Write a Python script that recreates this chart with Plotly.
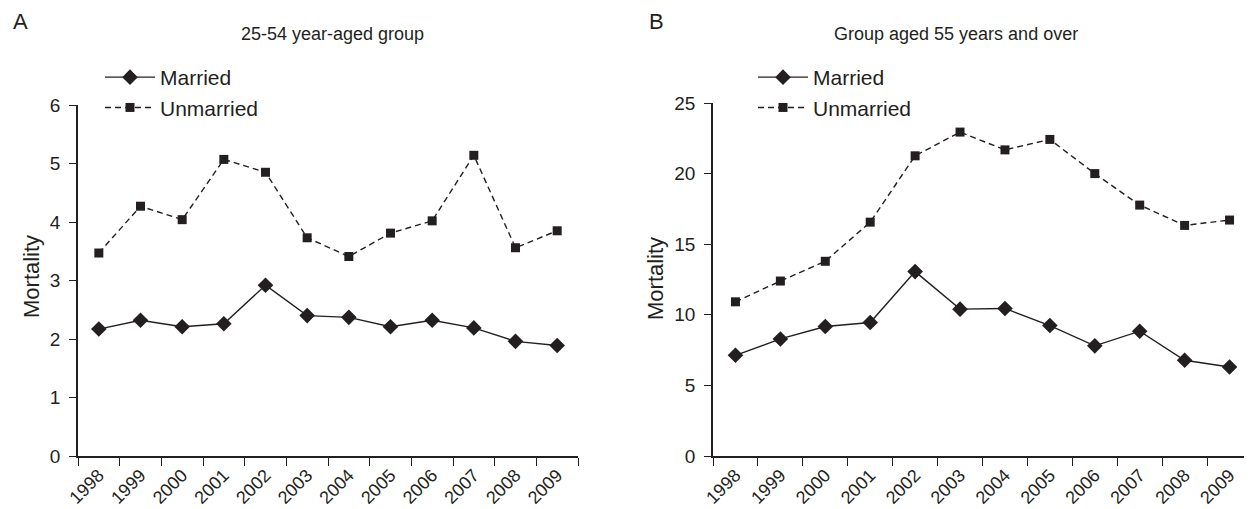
import plotly.graph_objects as go

years = ["1998", "1999", "2000", "2001", "2002", "2003", "2004", "2005", "2006", "2007", "2008", "2009"]

a_married = [2.17, 2.32, 2.21, 2.26, 2.92, 2.40, 2.37, 2.21, 2.32, 2.19, 1.96, 1.89]
a_unmarried = [3.47, 4.27, 4.04, 5.07, 4.85, 3.73, 3.41, 3.81, 4.02, 5.14, 3.56, 3.85]

b_married = [7.13, 8.29, 9.17, 9.45, 13.06, 10.40, 10.45, 9.24, 7.80, 8.84, 6.78, 6.30]
b_unmarried = [10.92, 12.39, 13.79, 16.56, 21.26, 22.94, 21.68, 22.42, 20.00, 17.77, 16.33, 16.71]

# The page body has an 8px margin; the figure starts at (8, 8) in the window.
OFF = 8
W, H = 1252 - OFF, 509 - OFF
FONT = "Liberation Sans, Arial, sans-serif"
INK = "#231f20"


def px_x(v):
    return min(1.0, (v - OFF) / W)


def px_y(v):
    return 1 - (v - OFF) / H


fig = go.Figure()

for xa, ya, lg, m, u in [("x", "y", "legend", a_married, a_unmarried),
                         ("x2", "y2", "legend2", b_married, b_unmarried)]:
    fig.add_trace(go.Scatter(x=years, y=m, name="Married", mode="lines+markers",
                             line=dict(color=INK, width=1.4),
                             marker=dict(symbol="diamond", size=12, color=INK),
                             xaxis=xa, yaxis=ya, legend=lg, cliponaxis=False))
    fig.add_trace(go.Scatter(x=years, y=u, name="Unmarried", mode="lines+markers",
                             line=dict(color=INK, width=1.4, dash="6px,4px"),
                             marker=dict(symbol="square", size=9, color=INK),
                             xaxis=xa, yaxis=ya, legend=lg, cliponaxis=False))

xaxis_common = dict(
    type="category", tickson="boundaries", ticks="outside", ticklen=8, tickwidth=1.4,
    tickcolor=INK, showline=True, linecolor=INK, linewidth=1.5, showgrid=False,
    zeroline=False, tickangle=-45, tickfont=dict(family=FONT, size=18, color=INK),
    range=[-0.5, 11.5], fixedrange=True, automargin=False,
)
yaxis_common = dict(
    ticks="outside", ticklen=7, tickwidth=1.4, tickcolor=INK, showline=True,
    linecolor=INK, linewidth=1.5, showgrid=False, zeroline=False, ticklabelstandoff=5,
    tickfont=dict(family=FONT, size=19, color=INK), fixedrange=True, automargin=False,
)

ybot = px_y(456)

legend_common = dict(xanchor="left", yanchor="top", font=dict(family=FONT, size=21, color=INK),
                     bgcolor="rgba(0,0,0,0)", tracegroupgap=0, itemwidth=50)

fig.update_layout(
    template="none",
    width=W, height=H,
    autosize=False,
    margin=dict(l=0, r=0, t=0, b=0, pad=0, autoexpand=False),
    paper_bgcolor="white", plot_bgcolor="white",
    font=dict(family=FONT, color=INK),
    xaxis=dict(domain=[px_x(78), px_x(578)], anchor="y", **xaxis_common),
    yaxis=dict(domain=[ybot, px_y(105)], anchor="x", range=[0, 6], dtick=1, **yaxis_common),
    xaxis2=dict(domain=[px_x(713), px_x(1252)], anchor="y2", **xaxis_common),
    yaxis2=dict(domain=[ybot, px_y(103)], anchor="x2", range=[0, 25], dtick=5, **yaxis_common),
    legend=dict(x=px_x(100), y=px_y(57), **legend_common),
    legend2=dict(x=px_x(753), y=px_y(57), **legend_common),
    showlegend=True,
    annotations=[
        dict(text="A", x=px_x(11), y=px_y(22), xref="paper", yref="paper", xanchor="left",
             yanchor="middle", showarrow=False, font=dict(family=FONT, size=22, color=INK)),
        dict(text="B", x=px_x(647), y=px_y(22), xref="paper", yref="paper", xanchor="left",
             yanchor="middle", showarrow=False, font=dict(family=FONT, size=22, color=INK)),
        dict(text="25-54 year-aged group", x=px_x(332), y=px_y(34), xref="paper", yref="paper",
             xanchor="center", yanchor="middle", showarrow=False,
             font=dict(family=FONT, size=18, color=INK)),
        dict(text="Group aged 55 years and over", x=px_x(956), y=px_y(34), xref="paper",
             yref="paper", xanchor="center", yanchor="middle", showarrow=False,
             font=dict(family=FONT, size=18, color=INK)),
        dict(text="Mortality", x=px_x(31), y=px_y(277), xref="paper", yref="paper",
             xanchor="center", yanchor="middle", showarrow=False, textangle=-90,
             font=dict(family=FONT, size=22, color=INK)),
        dict(text="Mortality", x=px_x(655), y=px_y(279), xref="paper", yref="paper",
             xanchor="center", yanchor="middle", showarrow=False, textangle=-90,
             font=dict(family=FONT, size=22, color=INK)),
    ],
)

fig.write_html("out.html")
